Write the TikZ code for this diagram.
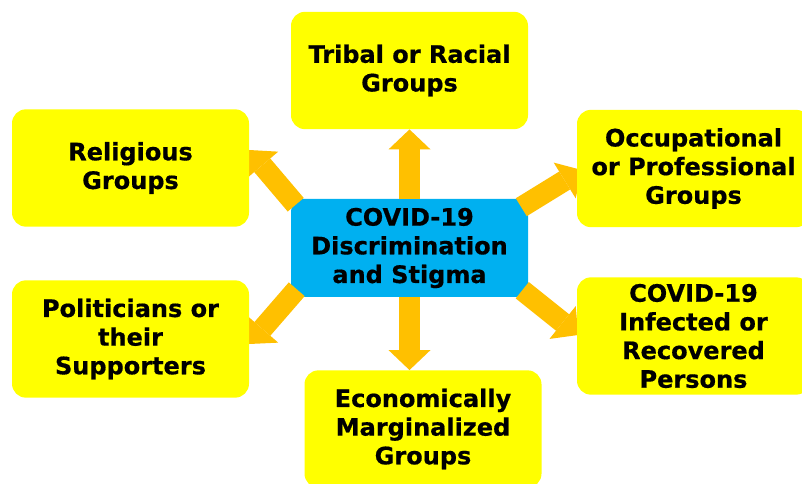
\documentclass[tikz,border=0pt]{standalone}
\usepackage{fontspec}
\setmainfont[BoldFeatures={FakeBold=0.6}]{DejaVu Sans}
\usetikzlibrary{arrows.meta}
\definecolor{boxyellow}{HTML}{FFFF00}
\definecolor{hubblue}{HTML}{00B0F0}
\definecolor{arrowgold}{HTML}{FFC000}
\pgfdeclarelayer{back}
\pgfdeclarelayer{mid}
\pgfsetlayers{back,mid,main}
\begin{document}
\begin{tikzpicture}[x=0.75pt,y=-0.75pt,
  group/.style={fill=boxyellow, rounded corners=10.5pt, align=center, inner sep=0pt,
    minimum width=177.75pt, minimum height=88pt,
    font=\bfseries\fontsize{18pt}{21.5pt}\selectfont},
  hub/.style={group, fill=hubblue, rounded corners=9pt, minimum height=73.5pt},
  link/.style={draw=arrowgold, line width=15.75pt,
    -{Triangle[length=15pt,width=31.5pt,line width=0pt]}}]
\useasboundingbox (0,0) rectangle (802,484);

% central hub sits underneath the arrows
\begin{pgfonlayer}{back}
  \fill[white] (0,0) rectangle (802,484);
  \node[hub] (hub) at (409.5,248) {COVID-19\\Discrimination\\and Stigma};
\end{pgfonlayer}

% affected groups
\node[group] (tribal) at (409.5,70.5) {Tribal or Racial\\Groups};
\node[group] (relig) at (130.5,168) {Religious\\Groups};
\node[group, minimum width=174.75pt] (occup) at (693.5,168.5) {Occupational\\or Professional\\Groups};
\node[group] (polit) at (130.5,339) {Politicians or\\their\\Supporters};
\node[group] (econ) at (423,429) {Economically\\Marginalized\\Groups};
\node[group, minimum width=174.75pt] (infect) at (693.5,336) {COVID-19\\Infected or\\Recovered\\Persons};

% arrows radiating from the hub
\begin{pgfonlayer}{mid}
  \draw[link] (hub.north) -- (tribal.south);
  \draw[link] (hub.south) -- (hub.south |- econ.north);
  \draw[link] ([shift={(5,6)}]hub.north west) -- ([shift={(0,-18)}]relig.east);
  \draw[link] ([shift={(6,-8)}]hub.south west) -- ([shift={(0,5)}]polit.east);
  \draw[link] ([shift={(-7,8.5)}]hub.north east) -- ([shift={(5,1.5)}]occup.west);
  \draw[link] ([shift={(-6,-7)}]hub.south east) -- ([shift={(1.5,-1)}]infect.west);
\end{pgfonlayer}
\end{tikzpicture}
\end{document}
